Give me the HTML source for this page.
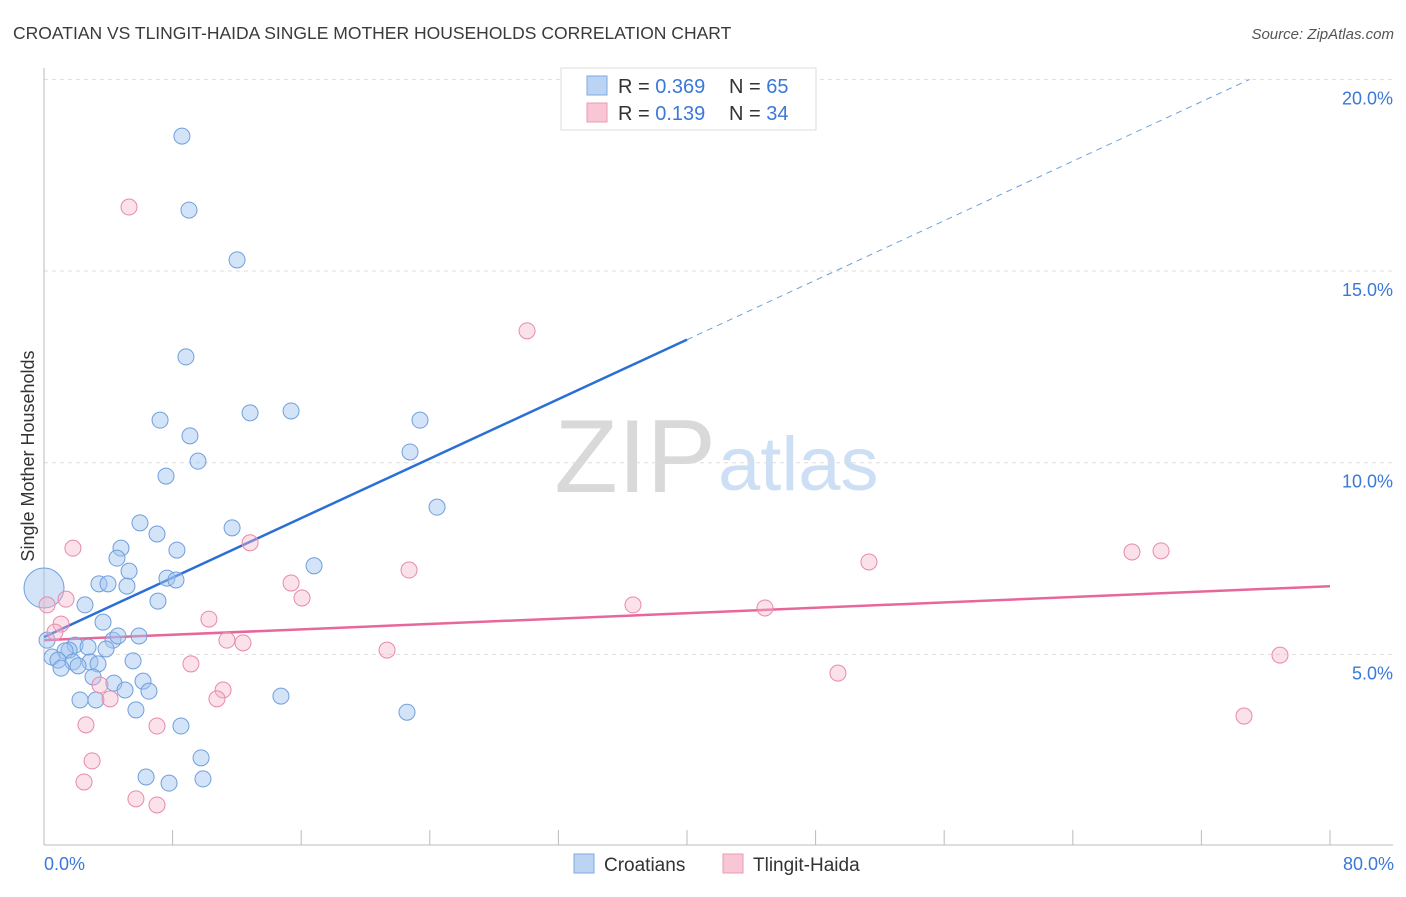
<!DOCTYPE html>
<html><head><meta charset="utf-8">
<style>
body{margin:0;background:#fff;font-family:"Liberation Sans",sans-serif;}
svg text{font-family:"Liberation Sans",sans-serif;}
</style></head>
<body>
<svg id="chart" width="1406" height="892">
<text x="13" y="39" font-size="17.5" fill="#3a3a3a">CROATIAN VS TLINGIT-HAIDA SINGLE MOTHER HOUSEHOLDS CORRELATION CHART</text>
<text x="1394" y="39" font-size="15" fill="#555" font-style="italic" text-anchor="end">Source: ZipAtlas.com</text>
<text x="716" y="492" font-size="104" font-family="Liberation Serif" fill="#d9d9d9" text-anchor="end">ZIP</text>
<text x="718" y="490" font-size="76" fill="#cddff4">atlas</text>
<g id="grid"></g>
<g id="axes"></g>
<g id="lines"></g>
<g id="pts"></g>
<text x="0" y="0" transform="translate(34,456) rotate(-90)" font-size="18" fill="#333" text-anchor="middle">Single Mother Households</text>
<text x="44" y="870" font-size="18" fill="#3b78d8">0.0%</text>
<text x="1394" y="870" font-size="18" fill="#3b78d8" text-anchor="end">80.0%</text>
<g>
<rect x="561" y="68" width="255" height="62" fill="#fff" stroke="#ddd"/>
<rect x="587" y="76" width="20" height="19" fill="#bcd4f4" stroke="#7fa9e0"/>
<rect x="587" y="103" width="20" height="19" fill="#f8c6d5" stroke="#eb9ab4"/>
<text x="618" y="93" font-size="20" fill="#333">R = <tspan fill="#3b78d8">0.369</tspan></text>
<text x="729" y="93" font-size="20" fill="#333">N = <tspan fill="#3b78d8">65</tspan></text>
<text x="618" y="120" font-size="20" fill="#333">R = <tspan fill="#3b78d8"> 0.139</tspan></text>
<text x="729" y="120" font-size="20" fill="#333">N = <tspan fill="#3b78d8">34</tspan></text>
</g>
<g>
<rect x="574" y="854" width="20" height="19" fill="#bcd4f4" stroke="#7fa9e0"/>
<text x="604" y="871" font-size="19" fill="#333">Croatians</text>
<rect x="723" y="854" width="20" height="19" fill="#f8c6d5" stroke="#eb9ab4"/>
<text x="753" y="871" font-size="19" fill="#333">Tlingit-Haida</text>
</g>
</svg>
<script>
const blueX=[8.58,9.02,12.01,8.83,7.22,12.82,15.37,23.39,9.08,9.58,7.59,22.77,24.45,5.97,11.70,7.03,4.79,8.27,4.54,5.29,16.80,7.65,8.21,3.42,3.98,5.16,7.09,2.55,3.67,5.91,4.29,4.60,0.19,1.93,2.74,1.56,1.31,3.86,0.50,0.87,1.80,2.86,3.36,5.54,2.12,1.06,3.05,4.35,6.16,5.04,6.53,2.24,3.23,5.72,14.74,22.58,8.52,9.77,6.35,7.78,9.89];
const blueY=[18.52,16.59,15.29,12.76,11.11,11.30,11.35,11.11,10.70,10.04,9.65,10.28,8.84,8.43,8.30,8.14,7.77,7.72,7.51,7.17,7.31,6.99,6.94,6.84,6.84,6.78,6.39,6.29,5.84,5.48,5.37,5.48,5.37,5.24,5.19,5.11,5.09,5.14,4.93,4.85,4.80,4.80,4.75,4.83,4.70,4.64,4.41,4.25,4.30,4.07,4.04,3.81,3.81,3.55,3.91,3.49,3.13,2.30,1.80,1.64,1.75];
const pinkX=[5.29,30.05,1.80,12.82,22.71,15.37,16.05,1.37,0.19,10.26,36.64,44.85,51.32,67.68,69.49,1.06,0.68,11.38,12.38,21.34,9.14,49.39,76.89,3.48,11.14,10.76,4.11,74.65,2.61,7.03,2.99,2.49,5.72,7.03];
const pinkY=[16.67,13.44,7.77,7.91,7.20,6.86,6.47,6.44,6.29,5.92,6.29,6.21,7.41,7.67,7.70,5.79,5.58,5.37,5.30,5.11,4.75,4.51,4.98,4.20,4.07,3.84,3.84,3.39,3.16,3.13,2.22,1.67,1.23,1.07];
const yTicks=[5,10,15,20];
const xTicks=[0,8,16,24,32,40,48,56,64,72,80];
const blueTrend=[5.45,0.194];
const pinkTrend=[5.37,0.0176];
const NS="http://www.w3.org/2000/svg";
const sx=v=>44+v*16.075, sy=v=>846-v*38.33;
function mk(tag,attrs,parent){const e=document.createElementNS(NS,tag);for(const k in attrs)e.setAttribute(k,attrs[k]);document.getElementById(parent).appendChild(e);return e;}
yTicks.forEach(t=>{
 const g=mk('line',{x1:44,x2:1393,y1:sy(t),y2:sy(t),stroke:'#ddd','stroke-dasharray':'4,4'},'grid');
 
 
 const l=mk('text',{x:1393,y:sy(t)+25,'font-size':18,fill:'#3b78d8','text-anchor':'end'},'grid');
 l.textContent=t.toFixed(1)+'%';
 
 
});
let a=mk('line',{x1:44,x2:1393,y1:845,y2:845,stroke:'#bbb'},'axes');


a=mk('line',{x1:44,x2:44,y1:68,y2:845,stroke:'#bbb'},'axes');


xTicks.forEach(t=>{
 const e=mk('line',{x1:sx(t),x2:sx(t),y1:830,y2:845,stroke:'#bbb'},'axes');
 
 
});
let ln=mk('line',{x1:sx(0),y1:sy(blueTrend[0]),x2:sx(40),y2:sy(blueTrend[0]+40*blueTrend[1]),stroke:'#2a6fd6','stroke-width':2.5},'lines');


const xe=(20-blueTrend[0])/blueTrend[1];
ln=mk('line',{x1:sx(40),y1:sy(blueTrend[0]+40*blueTrend[1]),x2:sx(xe),y2:sy(20),stroke:'#6f9fdc','stroke-width':1,'stroke-dasharray':'6,5'},'lines');


ln=mk('line',{x1:sx(0),y1:sy(pinkTrend[0]),x2:sx(80),y2:sy(pinkTrend[0]+80*pinkTrend[1]),stroke:'#e8679a','stroke-width':2.5},'lines');


blueX.forEach((x,i)=>{
 const c=mk('circle',{cx:sx(x),cy:sy(blueY[i]),r:8,fill:'rgba(160,195,240,0.45)',stroke:'#6f9fdc','stroke-width':1},'pts');
 
 
});
const big=mk('circle',{cx:sx(0),cy:sy(6.73),r:20,fill:'rgba(160,195,240,0.45)',stroke:'#6f9fdc','stroke-width':1},'pts');


pinkX.forEach((x,i)=>{
 const c=mk('circle',{cx:sx(x),cy:sy(pinkY[i]),r:8,fill:'rgba(246,180,202,0.4)',stroke:'#e88aa8','stroke-width':1},'pts');
 
 
});
</script>
</body></html>
